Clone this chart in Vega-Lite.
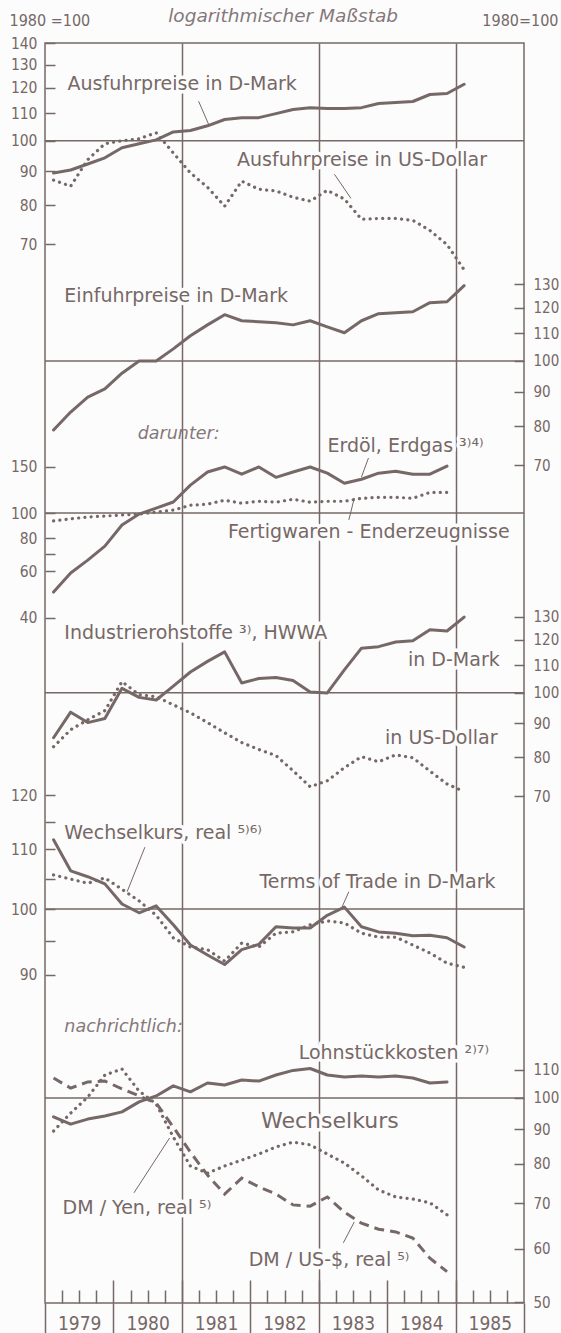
{
  "$schema": "https://vega.github.io/schema/vega-lite/v6.json",
  "width": 479,
  "height": 1260,
  "autosize": {"type": "none"},
  "padding": {"left": 45, "top": 43, "right": 37, "bottom": 30},
  "background": "#fcfcfc",
  "config": {
    "view": {"stroke": "#766866", "strokeWidth": 1.5},
    "axis": {"labelColor": "#766866", "tickColor": "#766866", "titleColor": "#766866", "titleFontWeight": "normal", "domain": false, "grid": false, "labelFlush": false, "labelOverlap": false, "labelBound": false, "tickWidth": 1.5, "labelFont": "DejaVu Sans Condensed", "labelFontSize": 15.5, "titleFont": "DejaVu Sans Condensed", "titleFontSize": 16}
  },
  "datasets": {
    "aus_dm": [{"t":1979.125,"v":89.5},{"t":1979.375,"v":90.4},{"t":1979.625,"v":92.3},{"t":1979.875,"v":94.3},{"t":1980.125,"v":97.6},{"t":1980.375,"v":99.0},{"t":1980.625,"v":100.3},{"t":1980.875,"v":103.1},{"t":1981.125,"v":103.6},{"t":1981.375,"v":105.3},{"t":1981.625,"v":107.6},{"t":1981.875,"v":108.3},{"t":1982.125,"v":108.3},{"t":1982.375,"v":109.8},{"t":1982.625,"v":111.4},{"t":1982.875,"v":112.1},{"t":1983.125,"v":111.8},{"t":1983.375,"v":111.8},{"t":1983.625,"v":112.1},{"t":1983.875,"v":113.7},{"t":1984.125,"v":114.1},{"t":1984.375,"v":114.5},{"t":1984.625,"v":117.3},{"t":1984.875,"v":117.7},{"t":1985.125,"v":121.5}],
    "aus_usd": [{"t":1979.125,"v":87.3},{"t":1979.375,"v":85.5},{"t":1979.625,"v":93.7},{"t":1979.875,"v":99.0},{"t":1980.125,"v":100.0},{"t":1980.375,"v":100.7},{"t":1980.625,"v":102.8},{"t":1980.875,"v":95.9},{"t":1981.125,"v":89.5},{"t":1981.375,"v":85.2},{"t":1981.625,"v":79.8},{"t":1981.875,"v":87.0},{"t":1982.125,"v":84.6},{"t":1982.375,"v":84.1},{"t":1982.625,"v":82.3},{"t":1982.875,"v":81.2},{"t":1983.125,"v":84.3},{"t":1983.375,"v":81.8},{"t":1983.625,"v":76.3},{"t":1983.875,"v":76.5},{"t":1984.125,"v":76.5},{"t":1984.375,"v":76.0},{"t":1984.625,"v":73.4},{"t":1984.875,"v":69.9},{"t":1985.125,"v":64.1}],
    "ein_dm": [{"t":1979.125,"v":79.0},{"t":1979.375,"v":84.0},{"t":1979.625,"v":88.4},{"t":1979.875,"v":90.9},{"t":1980.125,"v":95.9},{"t":1980.375,"v":100.0},{"t":1980.625,"v":100.0},{"t":1980.875,"v":104.2},{"t":1981.125,"v":109.0},{"t":1981.375,"v":113.1},{"t":1981.625,"v":117.1},{"t":1981.875,"v":114.7},{"t":1982.125,"v":114.3},{"t":1982.375,"v":113.9},{"t":1982.625,"v":113.1},{"t":1982.875,"v":114.7},{"t":1983.125,"v":112.3},{"t":1983.375,"v":110.1},{"t":1983.625,"v":114.7},{"t":1983.875,"v":117.5},{"t":1984.125,"v":117.9},{"t":1984.375,"v":118.3},{"t":1984.625,"v":122.0},{"t":1984.875,"v":122.4},{"t":1985.125,"v":129.3}],
    "erdoel": [{"t":1979.125,"v":50.0},{"t":1979.375,"v":59.1},{"t":1979.625,"v":66.2},{"t":1979.875,"v":74.8},{"t":1980.125,"v":90.0},{"t":1980.375,"v":99.1},{"t":1980.625,"v":104.4},{"t":1980.875,"v":110.2},{"t":1981.125,"v":127.8},{"t":1981.375,"v":143.3},{"t":1981.625,"v":149.8},{"t":1981.875,"v":140.6},{"t":1982.125,"v":149.8},{"t":1982.375,"v":136.8},{"t":1982.625,"v":143.3},{"t":1982.875,"v":149.8},{"t":1983.125,"v":141.9},{"t":1983.375,"v":129.9},{"t":1983.625,"v":134.5},{"t":1983.875,"v":141.9},{"t":1984.125,"v":144.3},{"t":1984.375,"v":140.6},{"t":1984.625,"v":140.6},{"t":1984.875,"v":151.0}],
    "fertig": [{"t":1979.125,"v":93.3},{"t":1979.375,"v":95.0},{"t":1979.625,"v":96.6},{"t":1979.875,"v":97.4},{"t":1980.125,"v":98.3},{"t":1980.375,"v":99.1},{"t":1980.625,"v":100.9},{"t":1980.875,"v":102.6},{"t":1981.125,"v":107.1},{"t":1981.375,"v":108.1},{"t":1981.625,"v":111.9},{"t":1981.875,"v":109.0},{"t":1982.125,"v":110.9},{"t":1982.375,"v":110.0},{"t":1982.625,"v":112.8},{"t":1982.875,"v":110.0},{"t":1983.125,"v":110.9},{"t":1983.375,"v":110.9},{"t":1983.625,"v":113.8},{"t":1983.875,"v":114.8},{"t":1984.125,"v":114.8},{"t":1984.375,"v":113.8},{"t":1984.625,"v":119.8},{"t":1984.875,"v":119.8}],
    "ind_dm": [{"t":1979.125,"v":85.6},{"t":1979.375,"v":93.5},{"t":1979.625,"v":90.2},{"t":1979.875,"v":91.5},{"t":1980.125,"v":101.5},{"t":1980.375,"v":98.4},{"t":1980.625,"v":97.5},{"t":1980.875,"v":102.3},{"t":1981.125,"v":107.4},{"t":1981.375,"v":111.4},{"t":1981.625,"v":115.1},{"t":1981.875,"v":103.4},{"t":1982.125,"v":105.0},{"t":1982.375,"v":105.4},{"t":1982.625,"v":104.3},{"t":1982.875,"v":100.2},{"t":1983.125,"v":99.9},{"t":1983.375,"v":108.2},{"t":1983.625,"v":116.6},{"t":1983.875,"v":117.2},{"t":1984.125,"v":119.1},{"t":1984.375,"v":119.6},{"t":1984.625,"v":124.2},{"t":1984.875,"v":123.7},{"t":1985.125,"v":129.8}],
    "ind_usd": [{"t":1979.125,"v":83.0},{"t":1979.375,"v":88.0},{"t":1979.625,"v":91.1},{"t":1979.875,"v":94.0},{"t":1980.125,"v":103.9},{"t":1980.375,"v":99.3},{"t":1980.625,"v":98.6},{"t":1980.875,"v":95.9},{"t":1981.125,"v":93.3},{"t":1981.375,"v":90.2},{"t":1981.625,"v":87.1},{"t":1981.875,"v":84.2},{"t":1982.125,"v":82.2},{"t":1982.375,"v":80.5},{"t":1982.625,"v":76.4},{"t":1982.875,"v":72.3},{"t":1983.125,"v":73.8},{"t":1983.375,"v":77.2},{"t":1983.625,"v":80.2},{"t":1983.875,"v":78.8},{"t":1984.125,"v":80.7},{"t":1984.375,"v":79.9},{"t":1984.625,"v":76.3},{"t":1984.875,"v":73.0},{"t":1985.125,"v":71.1}],
    "tot": [{"t":1979.125,"v":111.7},{"t":1979.375,"v":106.3},{"t":1979.625,"v":105.3},{"t":1979.875,"v":104.1},{"t":1980.125,"v":100.8},{"t":1980.375,"v":99.4},{"t":1980.625,"v":100.5},{"t":1980.875,"v":97.5},{"t":1981.125,"v":94.4},{"t":1981.375,"v":92.9},{"t":1981.625,"v":91.5},{"t":1981.875,"v":93.7},{"t":1982.125,"v":94.5},{"t":1982.375,"v":97.2},{"t":1982.625,"v":97.0},{"t":1982.875,"v":97.0},{"t":1983.125,"v":99.0},{"t":1983.375,"v":100.3},{"t":1983.625,"v":97.2},{"t":1983.875,"v":96.4},{"t":1984.125,"v":96.2},{"t":1984.375,"v":95.8},{"t":1984.625,"v":95.9},{"t":1984.875,"v":95.5},{"t":1985.125,"v":94.1}],
    "wk": [{"t":1979.125,"v":105.6},{"t":1979.375,"v":104.9},{"t":1979.625,"v":104.2},{"t":1979.875,"v":105.1},{"t":1980.125,"v":103.2},{"t":1980.375,"v":101.3},{"t":1980.625,"v":99.0},{"t":1980.875,"v":95.5},{"t":1981.125,"v":94.1},{"t":1981.375,"v":93.7},{"t":1981.625,"v":92.0},{"t":1981.875,"v":94.7},{"t":1982.125,"v":94.1},{"t":1982.375,"v":96.2},{"t":1982.625,"v":96.4},{"t":1982.875,"v":97.5},{"t":1983.125,"v":98.1},{"t":1983.375,"v":97.8},{"t":1983.625,"v":96.2},{"t":1983.875,"v":95.6},{"t":1984.125,"v":95.6},{"t":1984.375,"v":94.4},{"t":1984.625,"v":93.2},{"t":1984.875,"v":91.7},{"t":1985.125,"v":91.1}],
    "lohn": [{"t":1979.125,"v":93.8},{"t":1979.375,"v":91.5},{"t":1979.625,"v":93.1},{"t":1979.875,"v":94.1},{"t":1980.125,"v":95.4},{"t":1980.375,"v":98.7},{"t":1980.625,"v":100.7},{"t":1980.875,"v":104.2},{"t":1981.125,"v":102.1},{"t":1981.375,"v":105.2},{"t":1981.625,"v":104.5},{"t":1981.875,"v":106.3},{"t":1982.125,"v":105.9},{"t":1982.375,"v":108.1},{"t":1982.625,"v":109.8},{"t":1982.875,"v":110.5},{"t":1983.125,"v":108.1},{"t":1983.375,"v":107.4},{"t":1983.625,"v":107.7},{"t":1983.875,"v":107.4},{"t":1984.125,"v":107.7},{"t":1984.375,"v":107.0},{"t":1984.625,"v":105.2},{"t":1984.875,"v":105.6}],
    "yen": [{"t":1979.125,"v":89.4},{"t":1979.375,"v":95.0},{"t":1979.625,"v":100.3},{"t":1979.875,"v":108.1},{"t":1980.125,"v":110.3},{"t":1980.375,"v":102.4},{"t":1980.625,"v":98.0},{"t":1980.875,"v":87.6},{"t":1981.125,"v":79.4},{"t":1981.375,"v":77.5},{"t":1981.625,"v":79.4},{"t":1981.875,"v":81.0},{"t":1982.125,"v":82.7},{"t":1982.375,"v":84.7},{"t":1982.625,"v":86.1},{"t":1982.875,"v":85.3},{"t":1983.125,"v":82.7},{"t":1983.375,"v":80.2},{"t":1983.625,"v":76.8},{"t":1983.875,"v":73.2},{"t":1984.125,"v":71.5},{"t":1984.375,"v":71.0},{"t":1984.625,"v":70.1},{"t":1984.875,"v":67.3}],
    "usd": [{"t":1979.125,"v":107.0},{"t":1979.375,"v":103.4},{"t":1979.625,"v":105.6},{"t":1979.875,"v":105.9},{"t":1980.125,"v":103.1},{"t":1980.375,"v":100.7},{"t":1980.625,"v":98.3},{"t":1980.875,"v":90.6},{"t":1981.125,"v":83.2},{"t":1981.375,"v":77.0},{"t":1981.625,"v":72.2},{"t":1981.875,"v":76.2},{"t":1982.125,"v":74.0},{"t":1982.375,"v":72.2},{"t":1982.625,"v":69.6},{"t":1982.875,"v":69.3},{"t":1983.125,"v":71.5},{"t":1983.375,"v":67.9},{"t":1983.625,"v":65.4},{"t":1983.875,"v":64.1},{"t":1984.125,"v":63.5},{"t":1984.375,"v":62.2},{"t":1984.625,"v":58.1},{"t":1984.875,"v":55.5}],
    "ref": [{"v": 100}],
    "lab1": [{"t":1979.33,"v":121.5,"label":"Ausfuhrpreise in D-Mark"},{"t":1981.806,"v":93.5,"label":"Ausfuhrpreise in US-Dollar"}],
    "lead1": [{"t":1981.245,"v":114.6,"t2":1981.39,"v2":105.9},{"t":1983.23,"v":89.1,"t2":1983.47,"v2":82.0}],
    "lab2": [{"t":1979.283,"v":124.8,"label":"Einfuhrpreise in D-Mark"}],
    "lab2i": [{"t":1980.355,"v":77.9,"label":"darunter:"}],
    "labE": [{"t":1983.127,"v":180,"label":"Erdöl, Erdgas ³⁾⁴⁾"},{"t":1981.674,"v":84.6,"label":"Fertigwaren - Enderzeugnisse"}],
    "leadE": [{"t":1983.727,"v":162,"t2":1983.624,"v2":137},{"t":1983.52,"v":114,"t2":1983.44,"v2":94.1}],
    "lab3": [{"t":1979.283,"v":122.9,"label":"Industrierohstoffe ³⁾, HWWA"},{"t":1984.305,"v":111.9,"label":"in D-Mark"},{"t":1983.969,"v":85.5,"label":"in US-Dollar"}],
    "lab4": [{"t":1979.283,"v":112.9,"label":"Wechselkurs, real ⁵⁾⁶⁾"},{"t":1982.133,"v":104.4,"label":"Terms of Trade in D-Mark"}],
    "lead4": [{"t":1980.46,"v":110.4,"t2":1980.20,"v2":102.8},{"t":1983.44,"v":102.8,"t2":1983.34,"v2":100.3}],
    "lab5": [{"t":1982.707,"v":116.5,"label":"Lohnstückkosten ²⁾⁷⁾"},{"t":1979.257,"v":68.9,"label":"DM / Yen, real ⁵⁾"},{"t":1981.977,"v":57.7,"label":"DM / US-$, real ⁵⁾"}],
    "lab5i": [{"t":1979.283,"v":127.2,"label":"nachrichtlich:"}],
    "lab5w": [{"t":1982.157,"v":92.5,"label":"Wechselkurs"}],
    "lead5": [{"t":1980.82,"v":87.3,"t2":1980.30,"v2":72.5},{"t":1983.52,"v":65.7,"t2":1983.36,"v2":61.2}]
  },
  "resolve": {"scale": {"x": "independent", "y": "independent"}, "axis": {"x": "independent", "y": "independent"}},
  "layer": [
    {"data": {"name": "ein_dm"}, "mark": {"type": "line", "color": "#766866", "strokeWidth": 3, "strokeJoin": "round", "strokeCap": "round"},
     "encoding": {
       "x": {"field": "t", "type": "quantitative", "scale": {"domain": [1979, 1986], "nice": false, "zero": false},
             "axis": {"orient": "bottom", "values": [1981, 1983, 1985], "grid": true, "gridColor": "#766866", "gridWidth": 1.5, "gridOpacity": 1, "ticks": false, "labels": false, "domain": false, "title": null, "zindex": 0}},
       "y": {"field": "v", "type": "quantitative", "scale": {"type": "log", "domain": [4.014, 296.0], "nice": false},
             "axis": {"orient": "right", "values": [70, 80, 90, 100, 110, 120, 130], "tickSize": -10, "labelPadding": 19, "labelFontSize": 15, "labelExpr": "format(datum.value, 'd')", "title": "1980=100", "titleAngle": 0, "titleX": 34, "titleY": -23, "titleAlign": "right", "titleBaseline": "middle"}}}},
    {"data": {"name": "aus_dm"}, "mark": {"type": "line", "color": "#766866", "strokeWidth": 3, "strokeJoin": "round", "strokeCap": "round"},
     "encoding": {
       "x": {"field": "t", "type": "quantitative", "scale": {"domain": [1979, 1986], "nice": false, "zero": false},
             "axis": {"orient": "top", "values": [1979], "ticks": false, "labels": false, "domain": false, "grid": false, "title": "logarithmischer Maßstab", "titleX": 237.6, "titleY": -28, "titleAlign": "center", "titleBaseline": "middle", "titleFont": "DejaVu Sans", "titleFontStyle": "italic", "titleFontSize": 18.5, "titleColor": "#85787a"}},
       "y": {"field": "v", "type": "quantitative", "scale": {"type": "log", "domain": [1.8167, 140.1], "nice": false},
             "axis": {"orient": "left", "values": [70, 80, 90, 100, 110, 120, 130, 140], "tickSize": -10, "labelPadding": 18, "labelExpr": "format(datum.value, 'd')", "title": "1980 =100", "titleAngle": 0, "titleX": -36, "titleY": -23, "titleAlign": "left", "titleBaseline": "middle"}}}},
    {"data": {"name": "aus_usd"}, "mark": {"type": "line", "color": "#766866", "strokeWidth": 3.2, "strokeDash": [0.1, 6.2], "strokeCap": "round"},
     "encoding": {"x": {"field": "t", "type": "quantitative", "scale": {"domain": [1979, 1986], "nice": false, "zero": false}, "axis": null},
                  "y": {"field": "v", "type": "quantitative", "scale": {"type": "log", "domain": [1.8167, 140.1], "nice": false}, "axis": null}}},
    {"data": {"name": "ref"}, "mark": {"type": "rule", "color": "#766866", "strokeWidth": 1.5},
     "encoding": {"y": {"field": "v", "type": "quantitative", "scale": {"type": "log", "domain": [1.8167, 140.1], "nice": false}, "axis": null}}},
    {"data": {"name": "lab1"}, "mark": {"type": "text", "align": "left", "baseline": "middle", "font": "DejaVu Sans", "fontSize": 19, "color": "#fcfcfc", "stroke": "#fcfcfc", "strokeWidth": 7, "strokeJoin": "round"},
     "encoding": {"x": {"field": "t", "type": "quantitative", "scale": {"domain": [1979, 1986], "nice": false, "zero": false}, "axis": null},
                  "y": {"field": "v", "type": "quantitative", "scale": {"type": "log", "domain": [1.8167, 140.1], "nice": false}, "axis": null},
                  "text": {"field": "label"}}},
    {"data": {"name": "lab1"}, "mark": {"type": "text", "align": "left", "baseline": "middle", "font": "DejaVu Sans", "fontSize": 19, "color": "#766866"},
     "encoding": {"x": {"field": "t", "type": "quantitative", "scale": {"domain": [1979, 1986], "nice": false, "zero": false}, "axis": null},
                  "y": {"field": "v", "type": "quantitative", "scale": {"type": "log", "domain": [1.8167, 140.1], "nice": false}, "axis": null},
                  "text": {"field": "label"}}},
    {"data": {"name": "lead1"}, "mark": {"type": "rule", "color": "#766866", "strokeWidth": 1},
     "encoding": {"x": {"field": "t", "type": "quantitative", "scale": {"domain": [1979, 1986], "nice": false, "zero": false}, "axis": null}, "x2": {"field": "t2"},
                  "y": {"field": "v", "type": "quantitative", "scale": {"type": "log", "domain": [1.8167, 140.1], "nice": false}, "axis": null}, "y2": {"field": "v2"}}},
    {"data": {"name": "ref"}, "mark": {"type": "rule", "color": "#766866", "strokeWidth": 1.5},
     "encoding": {"y": {"field": "v", "type": "quantitative", "scale": {"type": "log", "domain": [4.014, 296.0], "nice": false}, "axis": null}}},
    {"data": {"name": "lab2"}, "mark": {"type": "text", "align": "left", "baseline": "middle", "font": "DejaVu Sans", "fontSize": 19, "color": "#fcfcfc", "stroke": "#fcfcfc", "strokeWidth": 7, "strokeJoin": "round"},
     "encoding": {"x": {"field": "t", "type": "quantitative", "scale": {"domain": [1979, 1986], "nice": false, "zero": false}, "axis": null},
                  "y": {"field": "v", "type": "quantitative", "scale": {"type": "log", "domain": [4.014, 296.0], "nice": false}, "axis": null},
                  "text": {"field": "label"}}},
    {"data": {"name": "lab2"}, "mark": {"type": "text", "align": "left", "baseline": "middle", "font": "DejaVu Sans", "fontSize": 19, "color": "#766866"},
     "encoding": {"x": {"field": "t", "type": "quantitative", "scale": {"domain": [1979, 1986], "nice": false, "zero": false}, "axis": null},
                  "y": {"field": "v", "type": "quantitative", "scale": {"type": "log", "domain": [4.014, 296.0], "nice": false}, "axis": null},
                  "text": {"field": "label"}}},
    {"data": {"name": "lab2i"}, "mark": {"type": "text", "align": "left", "baseline": "middle", "font": "DejaVu Sans", "fontStyle": "italic", "fontSize": 17.5, "color": "#85787a"},
     "encoding": {"x": {"field": "t", "type": "quantitative", "scale": {"domain": [1979, 1986], "nice": false, "zero": false}, "axis": null},
                  "y": {"field": "v", "type": "quantitative", "scale": {"type": "log", "domain": [4.014, 296.0], "nice": false}, "axis": null},
                  "text": {"field": "label"}}},
    {"data": {"name": "erdoel"}, "mark": {"type": "line", "color": "#766866", "strokeWidth": 3, "strokeJoin": "round", "strokeCap": "round"},
     "encoding": {
       "x": {"field": "t", "type": "quantitative", "scale": {"domain": [1979, 1986], "nice": false, "zero": false},
             "axis": {"orient": "bottom", "values": [1979.25, 1979.5, 1979.75, 1980.25, 1980.5, 1980.75, 1981.25, 1981.5, 1981.75, 1982.25, 1982.5, 1982.75, 1983.25, 1983.5, 1983.75, 1984.25, 1984.5, 1984.75, 1985.25, 1985.5, 1985.75], "tickSize": -13, "labels": false, "domain": false, "title": null}},
       "y": {"field": "v", "type": "quantitative", "scale": {"type": "log", "domain": [0.0979, 6174], "nice": false},
             "axis": {"orient": "left", "values": [40, 60, 70, 80, 100, 150], "tickSize": -10, "labelPadding": 18, "labelExpr": "datum.value == 70 ? '' : format(datum.value, 'd')", "title": null}}}},
    {"data": {"name": "fertig"}, "mark": {"type": "line", "color": "#766866", "strokeWidth": 3.2, "strokeDash": [0.1, 6.2], "strokeCap": "round"},
     "encoding": {"x": {"field": "t", "type": "quantitative", "scale": {"domain": [1979, 1986], "nice": false, "zero": false}, "axis": null},
                  "y": {"field": "v", "type": "quantitative", "scale": {"type": "log", "domain": [0.0979, 6174], "nice": false}, "axis": null}}},
    {"data": {"name": "ref"}, "mark": {"type": "rule", "color": "#766866", "strokeWidth": 1.5},
     "encoding": {"y": {"field": "v", "type": "quantitative", "scale": {"type": "log", "domain": [0.0979, 6174], "nice": false}, "axis": null}}},
    {"data": {"name": "labE"}, "mark": {"type": "text", "align": "left", "baseline": "middle", "font": "DejaVu Sans", "fontSize": 19, "color": "#fcfcfc", "stroke": "#fcfcfc", "strokeWidth": 7, "strokeJoin": "round"},
     "encoding": {"x": {"field": "t", "type": "quantitative", "scale": {"domain": [1979, 1986], "nice": false, "zero": false}, "axis": null},
                  "y": {"field": "v", "type": "quantitative", "scale": {"type": "log", "domain": [0.0979, 6174], "nice": false}, "axis": null},
                  "text": {"field": "label"}}},
    {"data": {"name": "labE"}, "mark": {"type": "text", "align": "left", "baseline": "middle", "font": "DejaVu Sans", "fontSize": 19, "color": "#766866"},
     "encoding": {"x": {"field": "t", "type": "quantitative", "scale": {"domain": [1979, 1986], "nice": false, "zero": false}, "axis": null},
                  "y": {"field": "v", "type": "quantitative", "scale": {"type": "log", "domain": [0.0979, 6174], "nice": false}, "axis": null},
                  "text": {"field": "label"}}},
    {"data": {"name": "leadE"}, "mark": {"type": "rule", "color": "#766866", "strokeWidth": 1},
     "encoding": {"x": {"field": "t", "type": "quantitative", "scale": {"domain": [1979, 1986], "nice": false, "zero": false}, "axis": null}, "x2": {"field": "t2"},
                  "y": {"field": "v", "type": "quantitative", "scale": {"type": "log", "domain": [0.0979, 6174], "nice": false}, "axis": null}, "y2": {"field": "v2"}}},
    {"data": {"name": "ind_dm"}, "mark": {"type": "line", "color": "#766866", "strokeWidth": 3, "strokeJoin": "round", "strokeCap": "round"},
     "encoding": {
       "x": {"field": "t", "type": "quantitative", "scale": {"domain": [1979, 1986], "nice": false, "zero": false},
             "axis": {"orient": "bottom", "values": [1980, 1981, 1982, 1983, 1984, 1985], "tickSize": -23, "labels": false, "domain": false, "title": null}},
       "y": {"field": "v", "type": "quantitative", "scale": {"type": "log", "domain": [12.19, 939.6], "nice": false},
             "axis": {"orient": "right", "values": [70, 80, 90, 100, 110, 120, 130], "tickSize": -10, "labelPadding": 19, "labelFontSize": 15, "labelExpr": "format(datum.value, 'd')", "title": null}}}},
    {"data": {"name": "ind_usd"}, "mark": {"type": "line", "color": "#766866", "strokeWidth": 3.2, "strokeDash": [0.1, 6.2], "strokeCap": "round"},
     "encoding": {"x": {"field": "t", "type": "quantitative", "scale": {"domain": [1979, 1986], "nice": false, "zero": false}, "axis": null},
                  "y": {"field": "v", "type": "quantitative", "scale": {"type": "log", "domain": [12.19, 939.6], "nice": false}, "axis": null}}},
    {"data": {"name": "ref"}, "mark": {"type": "rule", "color": "#766866", "strokeWidth": 1.5},
     "encoding": {"y": {"field": "v", "type": "quantitative", "scale": {"type": "log", "domain": [12.19, 939.6], "nice": false}, "axis": null}}},
    {"data": {"name": "lab3"}, "mark": {"type": "text", "align": "left", "baseline": "middle", "font": "DejaVu Sans", "fontSize": 19, "color": "#fcfcfc", "stroke": "#fcfcfc", "strokeWidth": 7, "strokeJoin": "round"},
     "encoding": {"x": {"field": "t", "type": "quantitative", "scale": {"domain": [1979, 1986], "nice": false, "zero": false}, "axis": null},
                  "y": {"field": "v", "type": "quantitative", "scale": {"type": "log", "domain": [12.19, 939.6], "nice": false}, "axis": null},
                  "text": {"field": "label"}}},
    {"data": {"name": "lab3"}, "mark": {"type": "text", "align": "left", "baseline": "middle", "font": "DejaVu Sans", "fontSize": 19, "color": "#766866"},
     "encoding": {"x": {"field": "t", "type": "quantitative", "scale": {"domain": [1979, 1986], "nice": false, "zero": false}, "axis": null},
                  "y": {"field": "v", "type": "quantitative", "scale": {"type": "log", "domain": [12.19, 939.6], "nice": false}, "axis": null},
                  "text": {"field": "label"}}},
    {"data": {"name": "tot"}, "mark": {"type": "line", "color": "#766866", "strokeWidth": 3, "strokeJoin": "round", "strokeCap": "round"},
     "encoding": {
       "x": {"field": "t", "type": "quantitative", "scale": {"domain": [1979, 1986], "nice": false, "zero": false},
             "axis": {"orient": "bottom", "values": [1979, 1980, 1981, 1982, 1983, 1984, 1985, 1986], "tickSize": 30, "labels": false, "domain": false, "title": null}},
       "y": {"field": "v", "type": "quantitative", "scale": {"type": "log", "domain": [53.24, 399.7], "nice": false},
             "axis": {"orient": "left", "values": [90, 95, 100, 105, 110, 115, 120], "tickSize": -10, "labelPadding": 18, "labelExpr": "datum.value % 10 == 0 ? format(datum.value, 'd') : ''", "title": null}}}},
    {"data": {"name": "wk"}, "mark": {"type": "line", "color": "#766866", "strokeWidth": 3.2, "strokeDash": [0.1, 6.2], "strokeCap": "round"},
     "encoding": {"x": {"field": "t", "type": "quantitative", "scale": {"domain": [1979, 1986], "nice": false, "zero": false}, "axis": null},
                  "y": {"field": "v", "type": "quantitative", "scale": {"type": "log", "domain": [53.24, 399.7], "nice": false}, "axis": null}}},
    {"data": {"name": "ref"}, "mark": {"type": "rule", "color": "#766866", "strokeWidth": 1.5},
     "encoding": {"y": {"field": "v", "type": "quantitative", "scale": {"type": "log", "domain": [53.24, 399.7], "nice": false}, "axis": null}}},
    {"data": {"name": "lab4"}, "mark": {"type": "text", "align": "left", "baseline": "middle", "font": "DejaVu Sans", "fontSize": 19, "color": "#fcfcfc", "stroke": "#fcfcfc", "strokeWidth": 7, "strokeJoin": "round"},
     "encoding": {"x": {"field": "t", "type": "quantitative", "scale": {"domain": [1979, 1986], "nice": false, "zero": false}, "axis": null},
                  "y": {"field": "v", "type": "quantitative", "scale": {"type": "log", "domain": [53.24, 399.7], "nice": false}, "axis": null},
                  "text": {"field": "label"}}},
    {"data": {"name": "lab4"}, "mark": {"type": "text", "align": "left", "baseline": "middle", "font": "DejaVu Sans", "fontSize": 19, "color": "#766866"},
     "encoding": {"x": {"field": "t", "type": "quantitative", "scale": {"domain": [1979, 1986], "nice": false, "zero": false}, "axis": null},
                  "y": {"field": "v", "type": "quantitative", "scale": {"type": "log", "domain": [53.24, 399.7], "nice": false}, "axis": null},
                  "text": {"field": "label"}}},
    {"data": {"name": "lead4"}, "mark": {"type": "rule", "color": "#766866", "strokeWidth": 1},
     "encoding": {"x": {"field": "t", "type": "quantitative", "scale": {"domain": [1979, 1986], "nice": false, "zero": false}, "axis": null}, "x2": {"field": "t2"},
                  "y": {"field": "v", "type": "quantitative", "scale": {"type": "log", "domain": [53.24, 399.7], "nice": false}, "axis": null}, "y2": {"field": "v2"}}},
    {"data": {"name": "lohn"}, "mark": {"type": "line", "color": "#766866", "strokeWidth": 3, "strokeJoin": "round", "strokeCap": "round"},
     "encoding": {
       "x": {"field": "t", "type": "quantitative", "scale": {"domain": [1979, 1986], "nice": false, "zero": false},
             "axis": {"orient": "bottom", "values": [1979, 1980, 1981, 1982, 1983, 1984, 1985], "ticks": false, "labels": true, "domain": false, "title": null, "labelExpr": "format(datum.value, 'd')", "labelOffset": 34.2, "labelPadding": 20, "labelBaseline": "middle", "labelAlign": "center", "labelFontSize": 19}},
       "y": {"field": "v", "type": "quantitative", "scale": {"type": "log", "domain": [49.91, 3573], "nice": false},
             "axis": {"orient": "right", "values": [50, 60, 70, 80, 90, 100, 110], "tickSize": -10, "labelPadding": 19, "labelFontSize": 15, "labelExpr": "format(datum.value, 'd')", "title": null}}}},
    {"data": {"name": "yen"}, "mark": {"type": "line", "color": "#766866", "strokeWidth": 3.2, "strokeDash": [0.1, 6.2], "strokeCap": "round"},
     "encoding": {"x": {"field": "t", "type": "quantitative", "scale": {"domain": [1979, 1986], "nice": false, "zero": false}, "axis": null},
                  "y": {"field": "v", "type": "quantitative", "scale": {"type": "log", "domain": [49.91, 3573], "nice": false}, "axis": null}}},
    {"data": {"name": "usd"}, "mark": {"type": "line", "color": "#766866", "strokeWidth": 3, "strokeDash": [10, 6]},
     "encoding": {"x": {"field": "t", "type": "quantitative", "scale": {"domain": [1979, 1986], "nice": false, "zero": false}, "axis": null},
                  "y": {"field": "v", "type": "quantitative", "scale": {"type": "log", "domain": [49.91, 3573], "nice": false}, "axis": null}}},
    {"data": {"name": "ref"}, "mark": {"type": "rule", "color": "#766866", "strokeWidth": 1.5},
     "encoding": {"y": {"field": "v", "type": "quantitative", "scale": {"type": "log", "domain": [49.91, 3573], "nice": false}, "axis": null}}},
    {"data": {"name": "lab5"}, "mark": {"type": "text", "align": "left", "baseline": "middle", "font": "DejaVu Sans", "fontSize": 19, "color": "#fcfcfc", "stroke": "#fcfcfc", "strokeWidth": 7, "strokeJoin": "round"},
     "encoding": {"x": {"field": "t", "type": "quantitative", "scale": {"domain": [1979, 1986], "nice": false, "zero": false}, "axis": null},
                  "y": {"field": "v", "type": "quantitative", "scale": {"type": "log", "domain": [49.91, 3573], "nice": false}, "axis": null},
                  "text": {"field": "label"}}},
    {"data": {"name": "lab5"}, "mark": {"type": "text", "align": "left", "baseline": "middle", "font": "DejaVu Sans", "fontSize": 19, "color": "#766866"},
     "encoding": {"x": {"field": "t", "type": "quantitative", "scale": {"domain": [1979, 1986], "nice": false, "zero": false}, "axis": null},
                  "y": {"field": "v", "type": "quantitative", "scale": {"type": "log", "domain": [49.91, 3573], "nice": false}, "axis": null},
                  "text": {"field": "label"}}},
    {"data": {"name": "lab5w"}, "mark": {"type": "text", "align": "left", "baseline": "middle", "font": "DejaVu Sans", "fontSize": 22, "color": "#fcfcfc", "stroke": "#fcfcfc", "strokeWidth": 7, "strokeJoin": "round"},
     "encoding": {"x": {"field": "t", "type": "quantitative", "scale": {"domain": [1979, 1986], "nice": false, "zero": false}, "axis": null},
                  "y": {"field": "v", "type": "quantitative", "scale": {"type": "log", "domain": [49.91, 3573], "nice": false}, "axis": null},
                  "text": {"field": "label"}}},
    {"data": {"name": "lab5w"}, "mark": {"type": "text", "align": "left", "baseline": "middle", "font": "DejaVu Sans", "fontSize": 22, "color": "#766866"},
     "encoding": {"x": {"field": "t", "type": "quantitative", "scale": {"domain": [1979, 1986], "nice": false, "zero": false}, "axis": null},
                  "y": {"field": "v", "type": "quantitative", "scale": {"type": "log", "domain": [49.91, 3573], "nice": false}, "axis": null},
                  "text": {"field": "label"}}},
    {"data": {"name": "lab5i"}, "mark": {"type": "text", "align": "left", "baseline": "middle", "font": "DejaVu Sans", "fontStyle": "italic", "fontSize": 17.5, "color": "#85787a"},
     "encoding": {"x": {"field": "t", "type": "quantitative", "scale": {"domain": [1979, 1986], "nice": false, "zero": false}, "axis": null},
                  "y": {"field": "v", "type": "quantitative", "scale": {"type": "log", "domain": [49.91, 3573], "nice": false}, "axis": null},
                  "text": {"field": "label"}}},
    {"data": {"name": "lead5"}, "mark": {"type": "rule", "color": "#766866", "strokeWidth": 1},
     "encoding": {"x": {"field": "t", "type": "quantitative", "scale": {"domain": [1979, 1986], "nice": false, "zero": false}, "axis": null}, "x2": {"field": "t2"},
                  "y": {"field": "v", "type": "quantitative", "scale": {"type": "log", "domain": [49.91, 3573], "nice": false}, "axis": null}, "y2": {"field": "v2"}}}
  ]
}
